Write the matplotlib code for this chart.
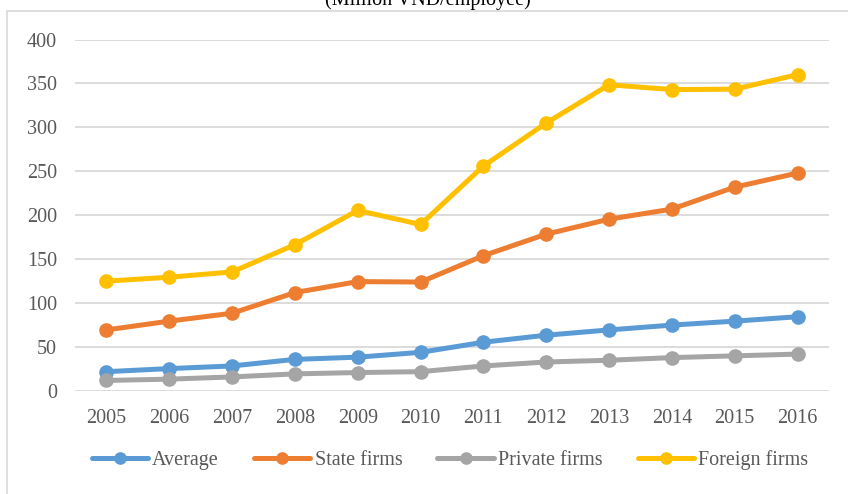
import matplotlib.pyplot as plt
from matplotlib.patches import Rectangle

plt.rcParams['font.family'] = ['Liberation Serif', 'DejaVu Serif']

years = ["2005", "2006", "2007", "2008", "2009", "2010",
         "2011", "2012", "2013", "2014", "2015", "2016"]
average = [22, 25.5, 28.5, 36, 38.5, 44, 55.5, 63.5, 69.5, 75, 79.5, 84.5]
state = [69.5, 79.5, 88.5, 112, 124.5, 124, 154, 178.5, 195.5, 207, 232, 248]
private = [12, 13.5, 16, 19.5, 21, 22, 28.5, 33, 35, 38, 40, 42]
foreign = [125, 129.5, 135.5, 166.5, 205.5, 189.5, 256, 305, 348.5, 343, 343.5, 360]

series = [
    ("Average", average, "#5B9BD5"),
    ("State firms", state, "#ED7D31"),
    ("Private firms", private, "#A5A5A5"),
    ("Foreign firms", foreign, "#FFC000"),
]

text_col = "#595959"
fs = 14.5

fig = plt.figure(figsize=(8.48, 4.94), dpi=100)
ax = fig.add_axes([75 / 848, 1 - 391 / 494, (829 - 75) / 848, (391 - 39.5) / 494])

x = list(range(len(years)))
for name, vals, col in series:
    ax.plot(x, vals, "-o", color=col, lw=3.6, markersize=9.5, label=name,
            solid_capstyle="round", zorder=3)

ax.set_xlim(-0.5, len(years) - 0.5)
ax.set_ylim(0, 400)
ax.set_yticks(range(0, 401, 50))
ax.set_xticks(x)
ax.set_xticklabels(years)
ax.tick_params(axis="both", length=0, labelsize=fs, labelcolor=text_col)
ax.tick_params(axis="y", pad=13)
ax.tick_params(axis="x", pad=13)
ax.grid(axis="y", color="#D9D9D9", lw=1.3)
ax.set_axisbelow(True)
for s in ax.spines.values():
    s.set_visible(False)

leg = fig.legend(loc="center", bbox_to_anchor=(450 / 848, 1 - 460 / 494), ncol=4,
                 frameon=False, fontsize=fs, handlelength=2.8, handletextpad=0.2,
                 columnspacing=1.75, labelcolor=text_col, markerscale=0.85)

fig.text(428 / 848, 1 - 5 / 494, "(Million VND/employee)", ha="center",
         va="baseline", fontsize=fs, color="black")

fig.patches.append(Rectangle((7 / 848, -0.1), 1.2, 1.1 - 11 / 494, transform=fig.transFigure,
                             fill=False, edgecolor="#D9D9D9", lw=1.2, clip_on=False))

fig.savefig("out.png", dpi=100)
